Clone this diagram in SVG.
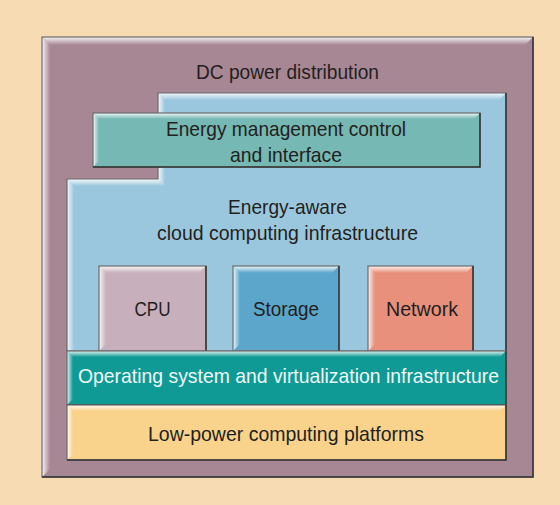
<svg xmlns="http://www.w3.org/2000/svg" width="560" height="505" viewBox="0 0 560 505">
<defs>
<linearGradient id="gTop" x1="0" y1="0" x2="0" y2="1"><stop offset="0" stop-color="#fff" stop-opacity="0.9"/><stop offset="1" stop-color="#fff" stop-opacity="0"/></linearGradient>
<linearGradient id="gLeft" x1="0" y1="0" x2="1" y2="0"><stop offset="0" stop-color="#fff" stop-opacity="0.9"/><stop offset="1" stop-color="#fff" stop-opacity="0"/></linearGradient>
</defs>
<style>
.lbl{font-family:"Liberation Sans",Arial,sans-serif;font-size:21px;fill:#231f20;text-anchor:middle}
.wht{fill:#eef7f5}
.edge{fill:none;stroke:#6b6b6b;stroke-width:1.2}
.dark{fill:none;stroke:#333;stroke-width:1.5}
.bt{fill:url(#gTop)}
.bl{fill:url(#gLeft)}
</style>
<rect x="0" y="0" width="560" height="505" fill="#f6dbb3"/>

<g id="dc-power">
<rect x="42" y="37" width="491" height="440" fill="#a88795"/>
<polygon class="bt" points="42,37 533,37 525,45 50,45"/>
<polygon class="bl" points="42,37 50,45 50,469 42,477"/>
<rect class="edge" x="42" y="37" width="491" height="440"/>
<polyline class="dark" points="533,37 533,477 42,477"/>
<text class="lbl" x="287.5" y="79" textLength="183" lengthAdjust="spacingAndGlyphs">DC power distribution</text>
</g>

<g id="cloud-infra">
<polygon points="158,93 506,93 506,351 67,351 67,179 158,179" fill="#9bc7de"/>
<polygon class="bt" points="158,93 506,93 499,100 165,100"/>
<polygon class="bl" points="158,93 165,100 165,186 158,179"/>
<polygon class="bt" points="67,179 158,179 165,186 74,186"/>
<polygon class="bl" points="67,179 74,186 74,351 67,351"/>
<polygon class="edge" points="158,93 506,93 506,351 67,351 67,179 158,179"/>
<polyline class="dark" points="506,93 506,351"/>
<text class="lbl" x="287.5" y="214" textLength="119" lengthAdjust="spacingAndGlyphs">Energy-aware</text>
<text class="lbl" x="287.5" y="240" textLength="261" lengthAdjust="spacingAndGlyphs">cloud computing infrastructure</text>
</g>

<g id="energy-mgmt">
<rect x="93" y="113" width="387" height="54" fill="#75b8b4"/>
<polygon class="bt" points="93,113 480,113 474,119 99,119"/>
<polygon class="bl" points="93,113 99,119 99,161 93,167"/>
<rect class="edge" x="93" y="113" width="387" height="54"/>
<polyline class="dark" points="480,113 480,167 93,167"/>
<text class="lbl" x="286" y="136" textLength="240" lengthAdjust="spacingAndGlyphs">Energy management control</text>
<text class="lbl" x="286" y="162" textLength="112" lengthAdjust="spacingAndGlyphs">and interface</text>
</g>

<g id="cpu">
<rect x="99" y="266" width="107" height="85" fill="#c7b0bb"/>
<polygon class="bt" points="99,266 206,266 199,273 106,273"/>
<polygon class="bl" points="99,266 106,273 106,344 99,351"/>
<rect class="edge" x="99" y="266" width="107" height="85"/>
<polyline class="dark" points="206,266 206,351"/>
<text class="lbl" x="152.5" y="316" textLength="36" lengthAdjust="spacingAndGlyphs">CPU</text>
</g>

<g id="storage">
<rect x="233" y="266" width="106" height="85" fill="#5ba6ca"/>
<polygon class="bt" points="233,266 339,266 332,273 240,273"/>
<polygon class="bl" points="233,266 240,273 240,344 233,351"/>
<rect class="edge" x="233" y="266" width="106" height="85"/>
<polyline class="dark" points="339,266 339,351"/>
<text class="lbl" x="286" y="316" textLength="66" lengthAdjust="spacingAndGlyphs">Storage</text>
</g>

<g id="network">
<rect x="368" y="266" width="105" height="85" fill="#e8907c"/>
<polygon class="bt" points="368,266 473,266 466,273 375,273"/>
<polygon class="bl" points="368,266 375,273 375,344 368,351"/>
<rect class="edge" x="368" y="266" width="105" height="85"/>
<polyline class="dark" points="473,266 473,351"/>
<text class="lbl" x="422" y="316" textLength="72" lengthAdjust="spacingAndGlyphs">Network</text>
</g>

<g id="os-virt">
<rect x="67" y="351" width="439" height="54" fill="#109a96"/>
<polygon class="bt" points="67,351 506,351 500,357 73,357"/>
<polygon class="bl" points="67,351 73,357 73,399 67,405"/>
<rect class="edge" x="67" y="351" width="439" height="54"/>
<polyline class="dark" points="506,351 506,405 67,405"/>
<text class="lbl wht" x="288.5" y="383" textLength="421" lengthAdjust="spacingAndGlyphs">Operating system and virtualization infrastructure</text>
</g>

<g id="low-power">
<rect x="67" y="405" width="439" height="55" fill="#f9d38c"/>
<polygon class="bt" points="67,405 506,405 500,411 73,411"/>
<polygon class="bl" points="67,405 73,411 73,454 67,460"/>
<rect class="edge" x="67" y="405" width="439" height="55"/>
<polyline class="dark" points="506,405 506,460 67,460"/>
<text class="lbl" x="286" y="441" textLength="276" lengthAdjust="spacingAndGlyphs">Low-power computing platforms</text>
</g>

<g id="connectors"/>
</svg>
